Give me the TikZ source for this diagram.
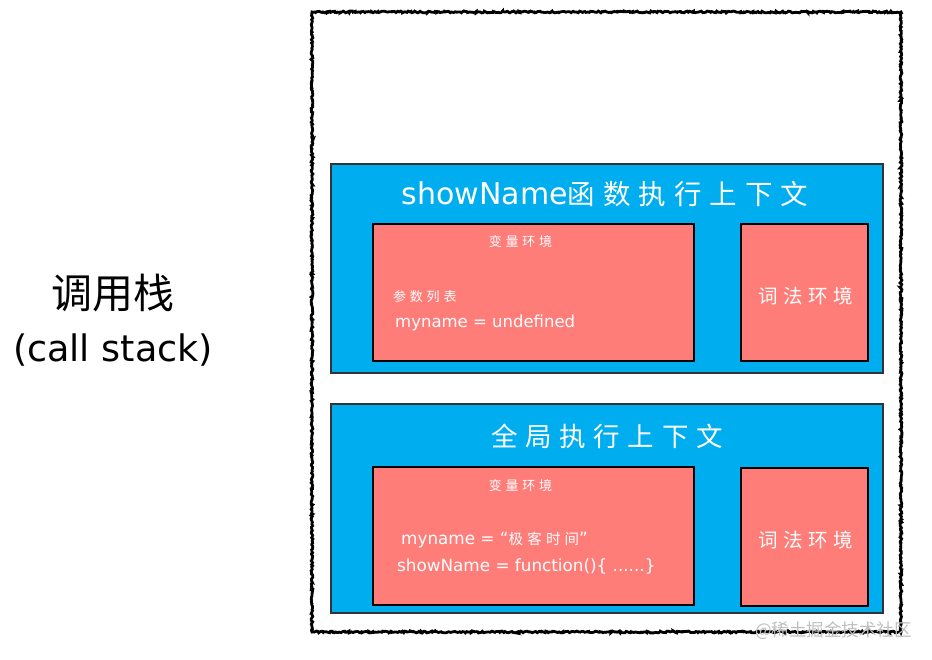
\documentclass[tikz,border=0pt]{standalone}
\usepackage{fontspec}
\setmainfont{DejaVu Sans}
\newfontfamily\cjk{Noto Sans CJK SC}
\newfontfamily\cjkls[LetterSpace=29]{Noto Sans CJK SC}
\usetikzlibrary{decorations.pathmorphing}
\definecolor{ctxblue}{RGB}{0,174,239}
\definecolor{envred}{RGB}{255,125,121}
\tikzset{
  frame/.style={draw=black, line width=2.8pt, inner sep=0pt,
    decorate, decoration={random steps, segment length=1.4pt, amplitude=0.9pt}},
  ctxbox/.style={draw=black!80, line width=1.3pt, fill=ctxblue, inner sep=0pt},
  envbox/.style={draw=black, line width=1.8pt, fill=envred, inner sep=0pt},
  wtxt/.style={text=white, inner sep=0pt},
  btxt/.style={text=black, inner sep=0pt},
}
\begin{document}
\begin{tikzpicture}[x=1pt,y=1pt]
\useasboundingbox (0,0) rectangle (932,660);
% outer call stack frame
\node[frame, minimum width=589pt, minimum height=620pt] (stack) at (606.5,338) {};
% left label
\node[btxt, font=\cjk\fontsize{41}{44}\selectfont] (lbl1) at (113,367) {调用栈};
\node[btxt, font=\fontsize{36.5}{40}\selectfont] (lbl2) at (113,310) {(call stack)};
% showName context
\node[ctxbox, minimum width=552pt, minimum height=209pt] (c1) at (607,391.5) {};
\node[wtxt] (t1) at (605,466) {\fontsize{30}{32}\selectfont showName\cjkls\fontsize{27.5}{30}\selectfont 函数执行上下文};
\node[envbox, minimum width=321pt, minimum height=137pt] (v1) at (533.5,367.5) {};
\node[envbox, minimum width=127pt, minimum height=137pt] (l1) at (804.5,367.5) {};
\node[wtxt, font=\cjkls\fontsize{13}{15}\selectfont] (v1t) at (520.5,418) {变量环境};
\node[wtxt, anchor=west, font=\cjkls\fontsize{13}{15}\selectfont] (v1a) at (393,363) {参数列表};
\node[wtxt, anchor=west, font=\fontsize{16.5}{18}\selectfont] (v1b) at (395,337) {myname = undefined};
\node[wtxt, font=\cjkls\fontsize{19.5}{22}\selectfont] (l1t) at (806,364) {词法环境};
% global context
\node[ctxbox, minimum width=552pt, minimum height=209pt] (c2) at (607,151.5) {};
\node[wtxt, font=\cjkls\fontsize{26.5}{30}\selectfont] (t2) at (607,224) {全局执行上下文};
\node[envbox, minimum width=321pt, minimum height=138pt] (v2) at (533.5,124) {};
\node[envbox, minimum width=127pt, minimum height=138pt] (l2) at (804.5,123) {};
\node[wtxt, font=\cjkls\fontsize{13}{15}\selectfont] (v2t) at (520.5,174) {变量环境};
\node[wtxt, anchor=west, font=\fontsize{16.8}{18}\selectfont] (v2a) at (401,120) {myname = “{\cjkls\fontsize{14.5}{16}\selectfont 极客时间}”};
\node[wtxt, anchor=west, font=\fontsize{16.8}{18}\selectfont] (v2b) at (397,94) {showName = function()\{ ......\}};
\node[wtxt, font=\cjkls\fontsize{19.5}{22}\selectfont] (l2t) at (806,120) {词法环境};
% watermark
\node[inner sep=0pt, anchor=west, text=black!25, font=\cjk\fontsize{17.5}{19}\selectfont] (wm) at (755,29) {@稀土掘金技术社区};
\end{tikzpicture}
\end{document}
